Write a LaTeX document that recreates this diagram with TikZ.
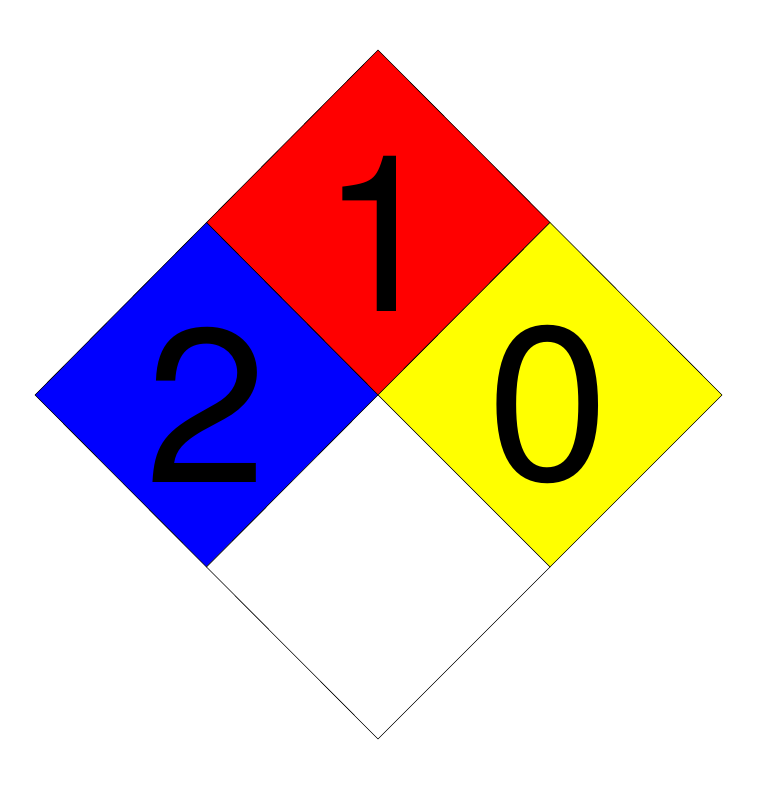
\documentclass[tikz,border=0pt]{standalone}
\usepackage{fontspec}
\setmainfont{TeX Gyre Heros}
\definecolor{nfred}{RGB}{255,0,0}
\definecolor{nfblue}{RGB}{0,0,255}
\definecolor{nfyellow}{RGB}{255,255,0}
\begin{document}
\begin{tikzpicture}[x=1pt,y=1pt,
  quad/.style={draw=black,line width=0.6pt,line join=miter},
  digit/.style={inner sep=0pt,font=\fontsize{219}{219}\selectfont,text=black}]
\useasboundingbox (0,0) rectangle (765,797);
\fill[white] (0,0) rectangle (765,797);
\coordinate (T) at (378,747);
\coordinate (L) at (35,402);
\coordinate (R) at (722,402);
\coordinate (B) at (378,58);
\coordinate (C) at (378,402);
\coordinate (TL) at (206.5,574.5);
\coordinate (TR) at (550,574.5);
\coordinate (BL) at (206.5,230);
\coordinate (BR) at (550,230);
\filldraw[quad,fill=nfred] (T) -- (TR) -- (C) -- (TL) -- cycle;
\filldraw[quad,fill=nfblue] (TL) -- (C) -- (BL) -- (L) -- cycle;
\filldraw[quad,fill=nfyellow] (TR) -- (R) -- (BR) -- (C) -- cycle;
\filldraw[quad,fill=white] (C) -- (BR) -- (B) -- (BL) -- cycle;
\node[digit] (n1) at (381,563.5) {1};
\node[digit] (n2) at (206.5,392.5) {2};
\node[digit] (n0) at (548,392) {0};
\end{tikzpicture}
\end{document}
